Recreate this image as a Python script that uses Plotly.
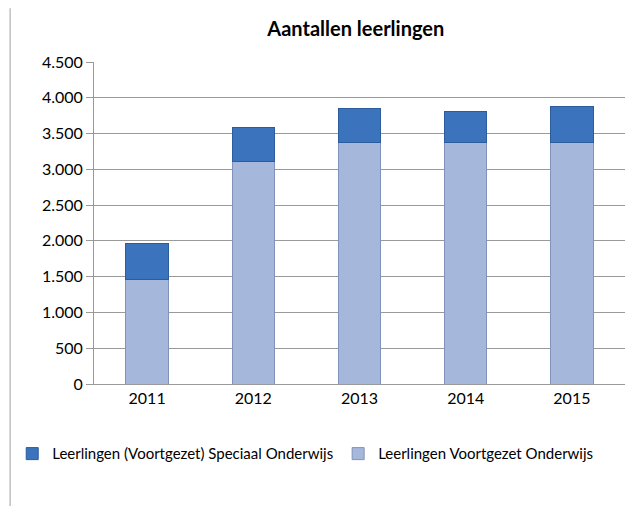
import plotly.graph_objects as go

years = ["2011", "2012", "2013", "2014", "2015"]
vo = [1455, 3110, 3370, 3375, 3375]          # Leerlingen Voortgezet Onderwijs
vso = [505, 470, 475, 440, 500]              # Leerlingen (Voortgezet) Speciaal Onderwijs
tick_vals = [0, 500, 1000, 1500, 2000, 2500, 3000, 3500, 4000, 4500]

font_family = "Lato, 'Open Sans', sans-serif"

# page has an 8px body margin, so the figure is sized/offset to compensate
W, H = 627, 498

fig = go.Figure()
fig.add_trace(go.Bar(
    x=years, y=vo, name="Leerlingen Voortgezet Onderwijs",
    marker=dict(color="#a6b7dc", line=dict(color="#8193bb", width=1)),
))
fig.add_trace(go.Bar(
    x=years, y=vso, name="Leerlingen (Voortgezet) Speciaal Onderwijs",
    marker=dict(color="#3b74bc", line=dict(color="#2c5c9a", width=1)),
))

fig.update_layout(
    width=W, height=H,
    barmode="stack", bargap=0.6,
    separators=",.",
    paper_bgcolor="white", plot_bgcolor="white",
    margin=dict(l=86, r=10, t=54, b=122, autoexpand=False),
    font=dict(family=font_family, size=16, color="#000000"),
    title=dict(text="<b>Aantallen leerlingen</b>", x=0.493, xanchor="center",
               xref="paper", y=1 - 21 / H, yref="container", yanchor="middle",
               font=dict(size=20, family=font_family)),
    legend=dict(orientation="h", x=-0.154, xanchor="left", y=-0.217, yanchor="middle",
                traceorder="reversed", font=dict(size=15), itemwidth=30,
                tracegroupgap=0),
    showlegend=True,
)
fig.update_yaxes(
    range=[0, 4500], tickvals=tick_vals, tickformat=",d",
    showgrid=True, gridcolor="#9a9a9a", gridwidth=1,
    showline=True, linecolor="#9a9a9a", linewidth=1,
    ticks="outside", ticklen=7, tickcolor="#9a9a9a",
    zeroline=False, tickfont=dict(size=16),
)
fig.update_xaxes(
    showline=True, linecolor="#9a9a9a", linewidth=1,
    ticks="", tickfont=dict(size=16),
)
# chart-area left border
fig.add_shape(type="line", xref="paper", yref="paper", x0=-0.158, x1=-0.158, y0=-0.4, y1=1.167,
              line=dict(color="#a0a0a0", width=1))

fig.write_html("out.html")
